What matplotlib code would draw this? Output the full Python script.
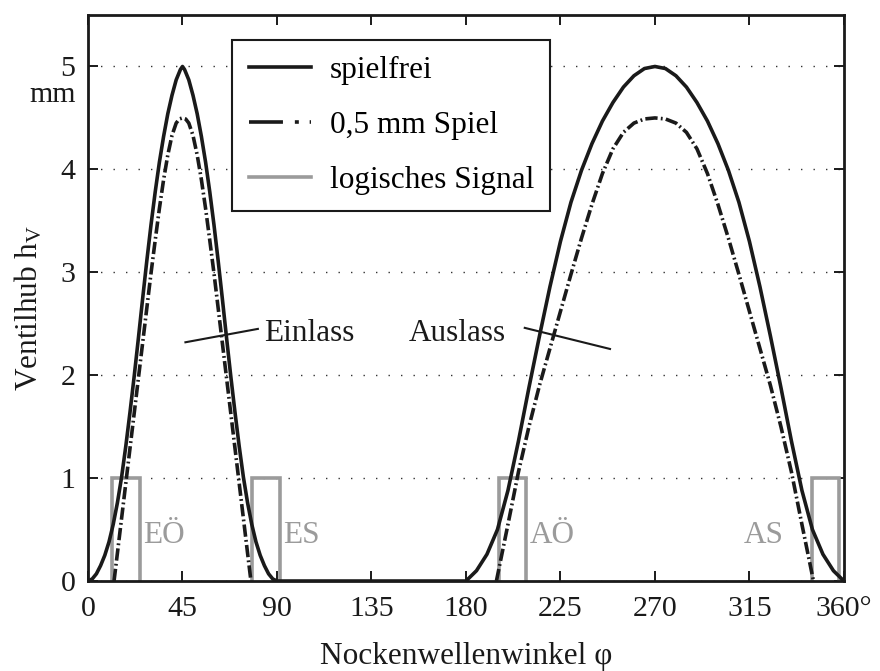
import matplotlib
matplotlib.use("Agg")
import matplotlib.pyplot as plt
from matplotlib.lines import Line2D
import matplotlib.transforms as mtransforms

plt.rcParams['font.family'] = ['Liberation Serif', 'DejaVu Serif']
plt.rcParams['mathtext.fontset'] = 'custom'
plt.rcParams['mathtext.rm'] = 'Liberation Serif'
plt.rcParams['mathtext.it'] = 'Liberation Serif:italic'

# ---------------- data ----------------
# valve lift without clearance (spielfrei): inlet lobe 0..90 deg, zero, exhaust lobe 180..360 deg
solid_angle = [0, 2, 4, 6, 8, 10, 12, 14, 16, 18, 20, 22, 24, 26, 28, 30, 32, 34, 36, 38, 40, 42, 44, 45,
               46, 48, 50, 52, 54, 56, 58, 60, 62, 64, 66, 68, 70, 72, 74, 76, 78, 80, 82, 84, 86, 88, 90,
               180, 185, 190, 195, 200, 205, 210, 215, 220, 225, 230, 235, 240, 245, 250, 255, 260, 265, 270,
               275, 280, 285, 290, 295, 300, 305, 310, 315, 320, 325, 330, 335, 340, 345, 350, 355, 360]
solid_lift = [0, 0.02, 0.07, 0.15, 0.25, 0.38, 0.55, 0.76, 1.01, 1.31, 1.64, 1.99, 2.36, 2.74, 3.11, 3.46,
              3.78, 4.07, 4.32, 4.54, 4.72, 4.87, 4.97, 5.0,
              4.97, 4.87, 4.72, 4.54, 4.32, 4.07, 3.78, 3.46, 3.11, 2.74, 2.36, 1.99, 1.64, 1.31, 1.01,
              0.76, 0.55, 0.38, 0.25, 0.15, 0.07, 0.02, 0,
              0, 0.10, 0.26, 0.50, 0.88, 1.36, 1.88, 2.38, 2.86, 3.30, 3.68, 3.99, 4.25, 4.47, 4.65, 4.80,
              4.91, 4.98, 5.0,
              4.98, 4.91, 4.80, 4.65, 4.47, 4.25, 3.99, 3.68, 3.30, 2.86, 2.38, 1.88, 1.36, 0.88, 0.50,
              0.26, 0.10, 0]

# valve lift with 0.5 mm clearance
spiel_in_angle = [12.4, 14, 16, 18, 20, 22, 24, 26, 28, 30, 32, 34, 36, 38, 40, 42, 43.5, 45,
                  46.5, 48, 50, 52, 54, 56, 58, 60, 62, 64, 66, 68, 70, 72, 74, 76, 77.6]
spiel_in_lift = [0, 0.27, 0.61, 0.95, 1.29, 1.63, 1.97, 2.31, 2.65, 2.99, 3.31, 3.62, 3.90, 4.14, 4.33,
                 4.45, 4.49, 4.5,
                 4.49, 4.45, 4.33, 4.14, 3.90, 3.62, 3.31, 2.99, 2.65, 2.31, 1.97, 1.63, 1.29, 0.95,
                 0.61, 0.27, 0]
spiel_ex_angle = [194.5, 200, 205, 210, 215, 220, 225, 230, 235, 240, 245, 250, 255, 260, 265, 270,
                  275, 280, 285, 290, 295, 300, 305, 310, 315, 320, 325, 330, 335, 340, 345.5]
spiel_ex_lift = [0, 0.55, 1.06, 1.50, 1.90, 2.26, 2.62, 2.98, 3.33, 3.66, 3.96, 4.20, 4.36, 4.45, 4.49, 4.5,
                 4.49, 4.45, 4.36, 4.20, 3.96, 3.66, 3.33, 2.98, 2.62, 2.26, 1.90, 1.50, 1.06, 0.55, 0]

# logical signal windows (start, end) in degrees, and their labels
signal_names = ['EÖ', 'ES', 'AÖ', 'AS']
signal_start = [11.3, 78.0, 195.5, 344.8]
signal_end = [24.8, 91.5, 208.5, 357.8]
signal_level = 1

xticks = [0, 45, 90, 135, 180, 225, 270, 315, 360]
xtick_labels = ['0', '45', '90', '135', '180', '225', '270', '315', '360°']
yticks = [0, 1, 2, 3, 4, 5]
ytick_labels = ['0', '1', '2', '3', '4', '5']

legend_labels = ['spielfrei', '0,5 mm Spiel', 'logisches Signal']

# ---------------- styles ----------------
BLACK = '#1a1a1a'
GRAY = '#9b9b9b'
LW = 2.6
FS = 22.5
TFS = 21.5
dashdot = (0, (3.4, 0.9, 0.5, 0.9))

fig = plt.figure(figsize=(8.8, 6.71), dpi=100)
ax = fig.add_axes([0.1, 0.1341, 0.859, 0.8435])

ax.set_xlim(0, 360)
ax.set_ylim(0, 5.5)

# grid
ax.set_axisbelow(True)
ax.yaxis.grid(True, linestyle=(0, (1, 8)), color='#333333', linewidth=1.0)
ax.xaxis.grid(False)

# signals (underneath)
for a, b in zip(signal_start, signal_end):
    ax.plot([a, a, b, b], [0, signal_level, signal_level, 0], color=GRAY, lw=LW,
            solid_joinstyle='miter', zorder=2)

# lift curves
ax.plot(spiel_in_angle, spiel_in_lift, color=BLACK, lw=LW, linestyle=dashdot, zorder=3)
ax.plot(spiel_ex_angle, spiel_ex_lift, color=BLACK, lw=LW, linestyle=dashdot, zorder=3)
ax.plot(solid_angle, solid_lift, color=BLACK, lw=LW, zorder=4)

# signal labels
ax.text(26.3, 0.37, signal_names[0], color=GRAY, fontsize=FS, ha='left', va='baseline')
ax.text(92.8, 0.37, signal_names[1], color=GRAY, fontsize=FS, ha='left', va='baseline')
ax.text(210.3, 0.37, signal_names[2], color=GRAY, fontsize=FS, ha='left', va='baseline')
ax.text(331.3, 0.37, signal_names[3], color=GRAY, fontsize=FS, ha='right', va='baseline')

# annotations
ax.plot([46.4, 80.9], [2.32, 2.45], color=BLACK, lw=1.5, zorder=5)
ax.text(83.8, 2.335, 'Einlass', fontsize=FS, ha='left', va='baseline', color=BLACK)
ax.plot([208.0, 248.6], [2.46, 2.255], color=BLACK, lw=1.5, zorder=5)
ax.text(152.6, 2.335, 'Auslass', fontsize=FS, ha='left', va='baseline', color=BLACK)

# ticks
ax.set_xticks(xticks)
ax.set_xticklabels(xtick_labels)
ax.set_yticks(yticks)
ax.set_yticklabels(ytick_labels)
ax.tick_params(direction='in', length=7.2, width=1.4, top=True, right=True,
               labelsize=TFS, colors=BLACK)
ax.tick_params(axis='x', pad=11)
ax.tick_params(axis='y', pad=9)
for s in ax.spines.values():
    s.set_linewidth(2.0)
    s.set_color(BLACK)

# unit "mm" under the 5
trans = mtransforms.blended_transform_factory(ax.transAxes, ax.transData)
ax.text(-0.0159, 4.653, 'mm', transform=trans, fontsize=TFS, ha='right', va='baseline', color=BLACK)

# axis labels
ax.set_xlabel('Nockenwellenwinkel φ', fontsize=FS, labelpad=14, color=BLACK)
fig.text(28.5 / 880, (671 - 308) / 671, r'Ventilhub h$_\mathregular{V}$', rotation=90,
         fontsize=FS, ha='center', va='center', color=BLACK)

# legend with proxies
handles = [Line2D([], [], color=BLACK, lw=LW),
           Line2D([], [], color=BLACK, lw=LW, linestyle=(0, (9.4, 3.3, 1.1, 3.0))),
           Line2D([], [], color=GRAY, lw=LW)]
leg = ax.legend(handles, legend_labels, loc='upper left', bbox_to_anchor=(0.1909, 0.9558),
                borderaxespad=0, fontsize=FS, frameon=True, fancybox=False, shadow=False,
                handlelength=2.0, handletextpad=0.6, borderpad=0.52, labelspacing=0.82,
                framealpha=1)
leg.get_frame().set_edgecolor(BLACK)
leg.get_frame().set_linewidth(1.5)
leg.set_zorder(10)

fig.savefig('out.png', dpi=100)
